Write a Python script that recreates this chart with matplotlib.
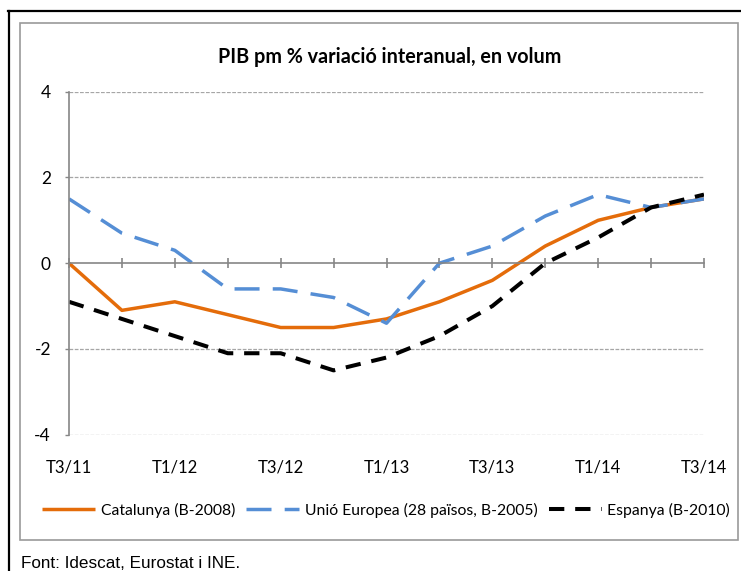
import matplotlib
matplotlib.use("Agg")
import matplotlib.pyplot as plt
from matplotlib.lines import Line2D
from matplotlib.patches import Rectangle

# quarterly GDP, % year-on-year change (volume)
quarters = ["T3/11", "T4/11", "T1/12", "T2/12", "T3/12", "T4/12", "T1/13",
            "T2/13", "T3/13", "T4/13", "T1/14", "T2/14", "T3/14"]
catalunya = [0.0, -1.1, -0.9, -1.2, -1.5, -1.5, -1.3, -0.9, -0.4, 0.4, 1.0, 1.3, 1.5]
ue28 = [1.5, 0.7, 0.3, -0.6, -0.6, -0.8, -1.4, 0.0, 0.4, 1.1, 1.6, 1.3, 1.5]
espanya = [-0.9, -1.3, -1.7, -2.1, -2.1, -2.5, -2.2, -1.7, -1.0, 0.0, 0.6, 1.3, 1.6]
y_ticks = [-4, -2, 0, 2, 4]

names = ["Catalunya (B-2008)", "Unió Europea (28 països, B-2005)", "Espanya (B-2010)"]
title = "PIB pm % variació interanual, en volum"
source = "Font: Idescat, Eurostat i INE."

plt.rcParams["font.family"] = ["Lato", "DejaVu Sans"]

W, H = 741, 571
fig = plt.figure(figsize=(W / 100, H / 100), dpi=100)

# frames: black outer (top + left), grey chart box
fig.add_artist(Line2D([8 / W, 1], [1 - 11 / H, 1 - 11 / H], color="black", lw=1.6))
fig.add_artist(Line2D([9 / W, 9 / W], [0, 1 - 11 / H], color="black", lw=1.6))
fig.add_artist(Rectangle((20 / W, 1 - 540 / H), 718 / W, 517 / H, fill=False,
                         edgecolor="#9a9a9a", lw=1.2))

ax = fig.add_axes([69 / W, 1 - 434.7 / H, 635 / W, 343 / H])
x = list(range(len(quarters)))

ax.plot(x, catalunya, color="#E46C0A", lw=2.5, solid_capstyle="butt", label=names[0])
ax.plot(x, ue28, color="#558ED5", lw=2.5, dashes=(7.2, 3.8), label=names[1])
ax.plot(x, espanya, color="black", lw=2.9, dashes=(3.8, 2.7), label=names[2])

ax.set_xlim(0, len(quarters) - 1)
ax.set_ylim(-4, 4)
ax.set_yticks(y_ticks)
ax.set_yticklabels([str(v) for v in y_ticks])
for v in y_ticks:
    if v != 0:
        ax.axhline(v, color="#a6a6a6", lw=0.9, dashes=(3, 1.2), zorder=0)

for s in ["top", "right"]:
    ax.spines[s].set_visible(False)
ax.spines["left"].set_color("#868686")
ax.spines["left"].set_linewidth(1.2)
ax.spines["bottom"].set_position(("data", 0))
ax.spines["bottom"].set_color("#868686")
ax.spines["bottom"].set_linewidth(1.2)

ax.set_xticks(x)
ax.tick_params(axis="x", direction="inout", length=7, width=1.2, color="#868686",
               labelbottom=False)
ax.tick_params(axis="y", direction="out", length=3, width=1.0, color="#868686",
               pad=10, labelsize=12.5)

sec = ax.secondary_xaxis("bottom")
sec.set_xticks(x[::2])
sec.set_xticklabels(quarters[::2])
sec.tick_params(length=0, pad=18, labelsize=12)
sec.spines["bottom"].set_visible(False)

fig.text(390 / W, 1 - 57 / H, title, ha="center", va="center",
         fontsize=14.2, fontweight="bold")

fig.legend(loc="center", bbox_to_anchor=(386 / W, 1 - 510 / H), ncol=3,
           frameon=False, fontsize=11.3, handlelength=3.4, handletextpad=0.35,
           columnspacing=0.7)

fig.text(21 / W, 1 - 563 / H, source, ha="left", va="center", fontsize=12.3,
         family=["Liberation Sans", "DejaVu Sans"])

fig.savefig("out.png", dpi=100)
